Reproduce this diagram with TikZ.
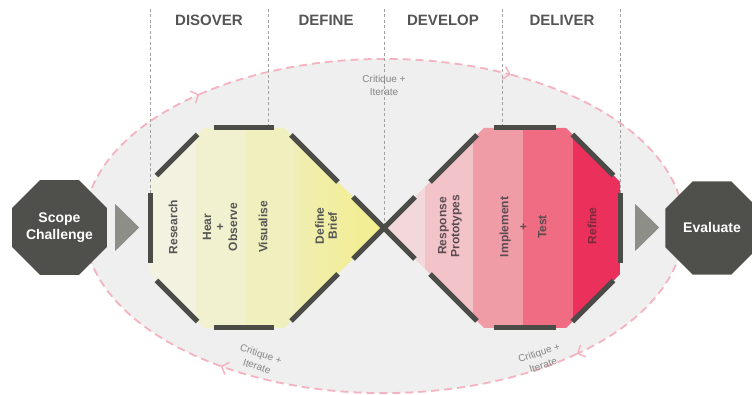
\documentclass[tikz,border=0pt]{standalone}
\usepackage{fontspec}
\setmainfont{Liberation Sans}
\usepackage{tikz}
\usetikzlibrary{shapes.geometric, arrows.meta, positioning, calc}

\definecolor{shell}{HTML}{EFEFEF}
\definecolor{loopclr}{HTML}{F4B3C0}
\definecolor{guideclr}{HTML}{A0A0A0}
\definecolor{barclr}{HTML}{4B4B47}
\definecolor{octclr}{HTML}{4F4F4B}
\definecolor{triclr}{HTML}{8C8E87}
\definecolor{headclr}{HTML}{555555}
\definecolor{noteclr}{HTML}{858585}
\definecolor{yA}{HTML}{F3F2E0}
\definecolor{yB}{HTML}{F2F1CF}
\definecolor{yC}{HTML}{F0EFBE}
\definecolor{yD}{HTML}{F0EEB2}
\definecolor{yE}{HTML}{F3EE8C}
\definecolor{pA}{HTML}{F3D8DB}
\definecolor{pB}{HTML}{F2C3C8}
\definecolor{pC}{HTML}{F09CA6}
\definecolor{pD}{HTML}{EF6C82}
\definecolor{pE}{HTML}{EC305C}
\definecolor{pinktext}{HTML}{5C4C51}
\definecolor{refineclr}{HTML}{7A2A3C}

\begin{document}
\begin{tikzpicture}[x=10pt, y=10pt,
  bar/.style={draw=barclr, line width=5pt},
  octo/.style={regular polygon, regular polygon sides=8, minimum size=101pt,
    fill=octclr, text=white, align=center, inner sep=0pt,
    font=\fontsize{14}{17}\selectfont\bfseries},
  pointer/.style={isosceles triangle, isosceles triangle stretches, fill=triclr,
    minimum width=47pt, minimum height=24pt, inner sep=0pt, anchor=west},
  phase/.style={font=\fontsize{15}{18}\selectfont\bfseries, text=headclr},
  stage/.style={rotate=90, align=center, text=headclr,
    font=\fontsize{12}{13}\selectfont\bfseries},
  guide/.style={draw=guideclr, line width=0.6pt, dash pattern=on 3pt off 2.5pt},
  iterate/.style={draw=loopclr, line width=1.8pt, dash pattern=on 8pt off 5pt},
  note/.style={align=center, text=noteclr, font=\fontsize{10}{13}\selectfont},
]
\useasboundingbox (0,0) rectangle (75.2,39.5);

% outer loop
\coordinate (hub) at (38.4,16.9);
\fill[shell] (hub) ellipse [x radius=30, y radius=16.7];
\foreach \a/\b in {180/128, 128/65, 65/-50, -50/-123}
  \draw[iterate, -{Straight Barb[length=6pt, width=13pt, line width=1.5pt]}]
    ($(hub)+(\a:30 and 16.7)$) arc[start angle=\a, end angle=\b, x radius=30, y radius=16.7];
\draw[iterate] ($(hub)+(-123:30 and 16.7)$) arc[start angle=-123, end angle=-180, x radius=30, y radius=16.7];

% corners of the two diamonds
\coordinate (mid) at (38.4,16.7);
\coordinate (dis1) at (15.0,21.3);
\coordinate (dis2) at (20.4,26.7);
\coordinate (dis3) at (28.4,26.7);
\coordinate (dis4) at (28.4,6.7);
\coordinate (dis5) at (20.4,6.7);
\coordinate (dis6) at (15.0,12.1);
\coordinate (del1) at (48.4,26.7);
\coordinate (del2) at (56.6,26.7);
\coordinate (del3) at (62.0,21.3);
\coordinate (del4) at (62.0,12.1);
\coordinate (del5) at (56.6,6.7);
\coordinate (del6) at (48.4,6.7);

\begin{scope}
  \clip (dis1) -- (dis2) -- (dis3) -- (mid) -- (dis4) -- (dis5) -- (dis6) -- cycle;
  \foreach \x/\w/\c in {15.0/19.6/yA, 19.6/24.6/yB, 24.6/29.5/yC}
    \fill[\c] (\x,6) rectangle (\w,28);
  \shade[left color=yD, right color=yE] (29.5,6) rectangle (38.4,28);
\end{scope}
\begin{scope}
  \clip (mid) -- (del1) -- (del2) -- (del3) -- (del4) -- (del5) -- (del6) -- cycle;
  \foreach \x/\w/\c in {38.4/42.5/pA, 42.5/47.3/pB, 47.3/52.3/pC, 52.3/57.3/pD, 57.3/62.0/pE}
    \fill[\c] (\x,6) rectangle (\w,28);
\end{scope}

% phase guides
\foreach \x/\y in {15.0/20.0, 26.8/27.0, 38.4/16.7, 50.2/27.0, 62.0/20.0}
  \draw[guide] (\x,38.6) -- (\x,\y);

% frame bars
\foreach \a/\b in {dis6/dis1, dis1/dis2, dis2/dis3, dis4/dis5, dis5/dis6,
    del1/del2, del2/del3, del3/del4, del4/del5, del5/del6}
  \draw[bar] ($(\a)!0.12!(\b)$) -- ($(\a)!0.88!(\b)$);
\foreach \a in {dis3, dis4, del1, del6}
  \draw[bar] ($(\a)!0.07!(mid)$) -- ($(\a)!0.54!(mid)$);
\draw[bar] ($(dis3)!0.69!(mid)$) -- ($(del6)!0.69!(mid)$);
\draw[bar] ($(dis4)!0.69!(mid)$) -- ($(del1)!0.69!(mid)$);

\node[phase] (discover) at (20.9,37.5) {DISOVER};
\node[phase] (define) at (32.6,37.5) {DEFINE};
\node[phase] (develop) at (44.3,37.5) {DEVELOP};
\node[phase] (deliver) at (56.2,37.5) {DELIVER};

\node[stage] (research) at (17.3,16.8) {Research};
\node[stage] (hear) at (22.0,16.8) {Hear\\+\\Observe};
\node[stage] (visualise) at (26.3,16.8) {Visualise};
\node[stage] (brief) at (32.6,16.9) {Define\\Brief};
\node[stage, text=pinktext] (proto) at (45.0,16.9) {Response\\Prototypes};
\node[stage, text=pinktext] (implement) at (52.3,16.8) {Implement\\[6pt]+\\[6pt]Test};
\node[stage, text=refineclr] (refine) at (59.2,16.9) {Refine};

\node[octo] (scope) at (5.95,16.75) {Scope\\Challenge};
\node[octo] (evaluate) at (71.2,16.7) {Evaluate};
\node[pointer] (into) at (11.5,16.75) {};
\node[pointer] (out) at (63.5,16.75) {};

\node[note] (topnote) at (38.4,31.0) {Critique +\\Iterate};
\node[note, rotate=-18] (leftnote) at (25.9,3.5) {Critique +\\Iterate};
\node[note, rotate=18] (rightnote) at (54.1,3.6) {Critique +\\Iterate};
\end{tikzpicture}
\end{document}
